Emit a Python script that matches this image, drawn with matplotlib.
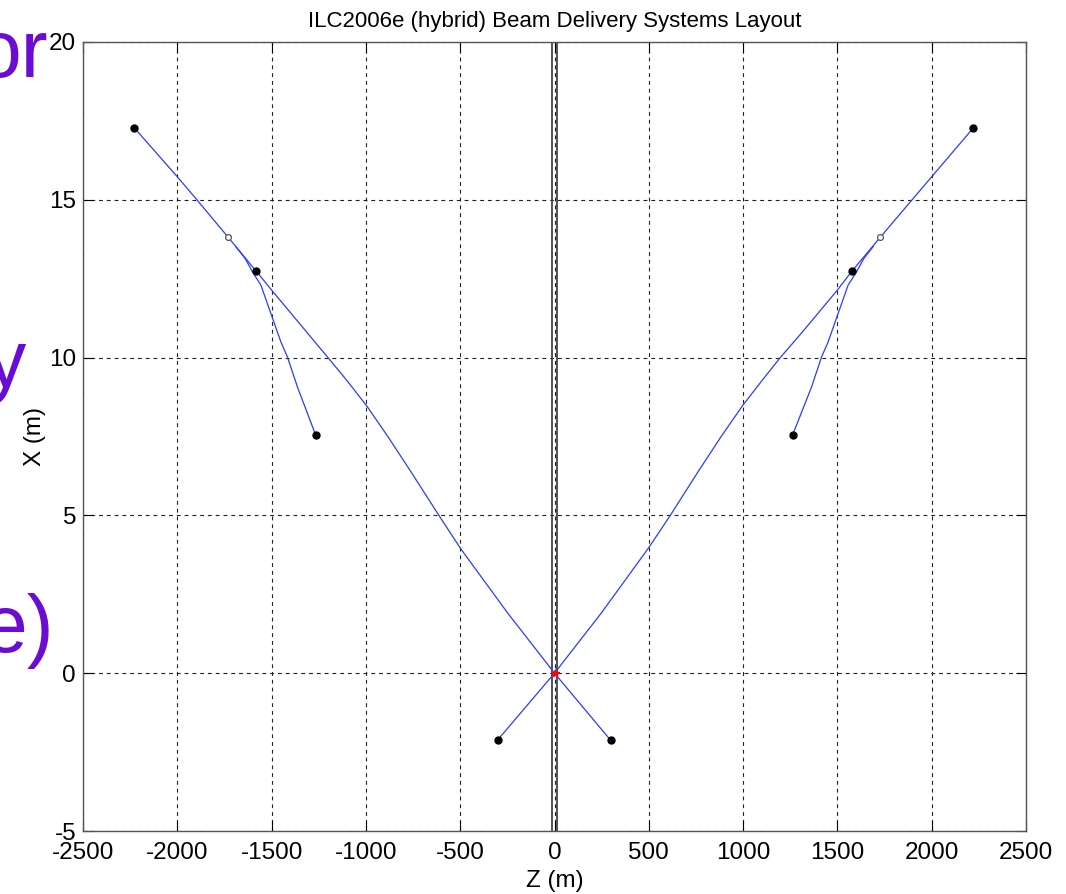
import matplotlib
matplotlib.use("Agg")
import matplotlib.pyplot as plt

plt.rcParams['font.family'] = ['Liberation Sans', 'DejaVu Sans']
plt.rcParams['axes.unicode_minus'] = False

# main beam lines (Z, X) in metres
left_z = [0, -250, -498, -613, -763, -886, -992, -1100, -1204, -1310, -1500, -1582, -1730, -1896, -2000, -2228]
left_x = [0, 1.92, 3.95, 5.00, 6.40, 7.52, 8.44, 9.27, 10.02, 10.78, 12.14, 12.74, 13.81, 15.00, 15.73, 17.28]
right_z = [0, 250, 500, 614, 763, 886, 1000, 1100, 1197, 1310, 1500, 1577, 1727, 1896, 2000, 2221]
right_x = [0, 1.92, 3.98, 5.00, 6.40, 7.52, 8.50, 9.27, 10.00, 10.78, 12.14, 12.74, 13.81, 15.00, 15.73, 17.28]

# branch lines
lbr_z = [-1690, -1640, -1600, -1557, -1504, -1451, -1416, -1363, -1266]
lbr_x = [13.52, 13.14, 12.70, 12.30, 11.40, 10.50, 10.02, 9.07, 7.54]
rbr_z = [1690, 1640, 1600, 1557, 1504, 1451, 1416, 1363, 1262]
rbr_x = [13.52, 13.14, 12.70, 12.30, 11.40, 10.50, 10.02, 9.07, 7.54]

# extraction lines below IP
lex_z = [0, -302]
lex_x = [0, -2.12]
rex_z = [0, 297]
rex_x = [0, -2.12]

dots_z = [-2228, -1582, -1266, -302, 297, 1262, 1577, 2221]
dots_x = [17.28, 12.74, 7.54, -2.12, -2.12, 7.54, 12.74, 17.28]
open_z = [-1730, 1727]
open_x = [13.81, 13.81]

hall_z = [-15, 15]

fig = plt.figure(figsize=(10.66, 8.94), dpi=100)
ax = fig.add_axes([83/1066, 63/894, 943/1066, 789/894])

for z in hall_z:
    ax.axvline(z, color='#444444', lw=1.3, zorder=2)

blue = '#2a3cff'
for zz, xx in [(left_z, left_x), (right_z, right_x), (lbr_z, lbr_x),
               (rbr_z, rbr_x), (lex_z, lex_x), (rex_z, rex_x)]:
    ax.plot(zz, xx, color=blue, lw=0.9, zorder=3)

ax.plot(dots_z, dots_x, 'o', color='black', ms=5, ls='none', zorder=4)
ax.plot(open_z, open_x, 'o', mfc='white', mec='#555555', mew=0.9, ms=4.2, ls='none', zorder=4)
ax.plot([0], [0], '*', color='red', ms=6, zorder=5)

ax.set_xlim(-2500, 2500)
ax.set_ylim(-5, 20)
ax.set_xticks(range(-2500, 2501, 500))
ax.set_yticks(range(-5, 21, 5))
ax.grid(True, color='#222222', linestyle=(0, (3.5, 3.5)), linewidth=0.8)
ax.tick_params(direction='in', length=7, width=0.8, top=True, right=True,
               labelsize=17.5, colors='black')
ax.tick_params(axis='x', pad=8)
ax.tick_params(axis='y', pad=5)
for s in ax.spines.values():
    s.set_color('#555555')
    s.set_linewidth(1)

ax.set_title('ILC2006e (hybrid) Beam Delivery Systems Layout', fontsize=16, pad=11)
ax.set_xlabel('Z (m)', fontsize=17.5, labelpad=4)
ax.set_ylabel('X (m)', fontsize=17.5, labelpad=2)

# slide text that sits behind the figure on the left
purple = '#6a0cd3'
fig.text(48/1066, 1 - 77/894, 'or', color=purple, fontsize=58, ha='right', va='baseline')
fig.text(26/1066, 1 - 387/894, 'y', color=purple, fontsize=58, ha='right', va='baseline')
fig.text(54/1066, 1 - 652/894, 'e)', color=purple, fontsize=58, ha='right', va='baseline')

fig.savefig('out.png', dpi=100)
